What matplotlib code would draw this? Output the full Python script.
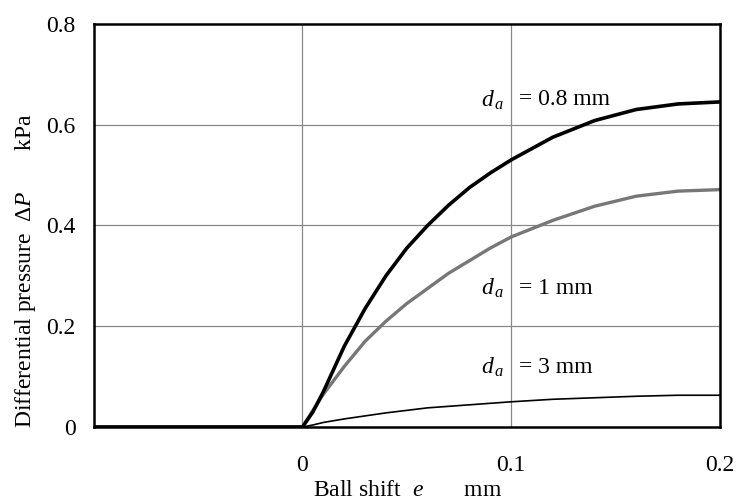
import numpy as np
import matplotlib
matplotlib.use('Agg')
import matplotlib.pyplot as plt

plt.rcParams['font.family'] = ['Liberation Serif', 'DejaVu Serif']
plt.rcParams['mathtext.fontset'] = 'custom'
plt.rcParams['mathtext.rm'] = 'Liberation Serif'
plt.rcParams['mathtext.it'] = 'Liberation Serif:italic'

# ball shift e (mm)
shift = [-0.1, 0.0, 0.005, 0.01, 0.02, 0.03, 0.04, 0.05, 0.06, 0.07, 0.08,
         0.09, 0.10, 0.12, 0.14, 0.16, 0.18, 0.20]

# differential pressure (kPa) for each orifice diameter
dp_08 = [0, 0, 0.03, 0.07, 0.16, 0.235, 0.30, 0.355, 0.40, 0.44, 0.475,
         0.504, 0.53, 0.575, 0.608, 0.630, 0.641, 0.645]
dp_1 = [0, 0, 0.033, 0.065, 0.12, 0.17, 0.21, 0.245, 0.275, 0.305, 0.33,
        0.355, 0.377, 0.41, 0.438, 0.458, 0.468, 0.471]
dp_3 = [0, 0, 0.004, 0.009, 0.016, 0.022, 0.028, 0.033, 0.038, 0.041, 0.044,
        0.047, 0.05, 0.055, 0.058, 0.061, 0.063, 0.063]

labels = ['= 0.8 mm', '= 1 mm', '= 3 mm']
label_y = [0.649, 0.275, 0.119]

fs = 17

fig = plt.figure(figsize=(7.39, 4.99), dpi=100)
ax = fig.add_axes([0.127, 0.1443, 0.847, 0.808])

ax.plot(shift, dp_3, color='black', lw=1.2, zorder=3)
ax.plot(shift, dp_1, color='#777777', lw=2.4, zorder=4)
ax.plot(shift, dp_08, color='black', lw=2.6, zorder=5)

ax.set_xlim(-0.1, 0.2)
ax.set_ylim(0, 0.8)
ax.set_xticks([0, 0.1, 0.2])
ax.set_xticklabels(['0', '0.1', '0.2'])
ax.set_yticks([0, 0.2, 0.4, 0.6, 0.8])
ax.set_yticklabels(['0', '0.2', '0.4', '0.6', '0.8'])
ax.tick_params(length=0, labelsize=fs)
ax.tick_params(axis='x', pad=20)
ax.tick_params(axis='y', pad=13)

for v in [0, 0.1]:
    ax.axvline(v, color='#888888', lw=0.9, zorder=1)
for v in [0.2, 0.4, 0.6]:
    ax.axhline(v, color='#888888', lw=0.9, zorder=1)

for s in ax.spines.values():
    s.set_linewidth(1.8)
    s.set_zorder(6)

for lab, y in zip(labels, label_y):
    ax.text(0.0967, y, '$d_{\\,a}$', ha='right', va='center', fontsize=fs)
    ax.text(0.1038, y, lab, ha='left', va='center', fontsize=fs)

fig.text(0.551, 0.018, 'Ball shift  $e$       mm', ha='center', va='center',
         fontsize=fs)
fig.text(0.034, 1 - 271 / 499, 'Differential pressure  Δ$P$       kPa',
         ha='center', va='center', rotation=90, fontsize=fs)

fig.savefig('out.png', dpi=100)
